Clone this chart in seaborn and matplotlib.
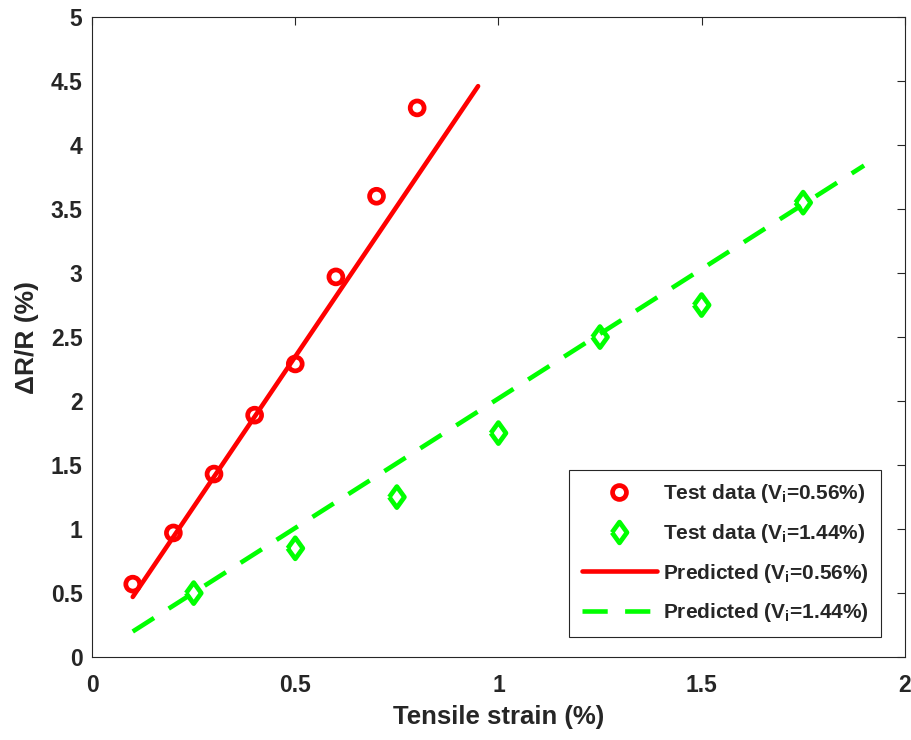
import matplotlib
matplotlib.use("Agg")
import matplotlib.pyplot as plt
from matplotlib.lines import Line2D
import seaborn as sns
import pandas as pd

# Measured resistance change vs tensile strain
strain_a = [0.1, 0.2, 0.3, 0.4, 0.5, 0.6, 0.7, 0.8]
dr_a = [0.57, 0.97, 1.43, 1.89, 2.29, 2.97, 3.60, 4.29]

strain_b = [0.25, 0.5, 0.75, 1.0, 1.25, 1.5, 1.75]
dr_b = [0.50, 0.85, 1.25, 1.75, 2.50, 2.75, 3.55]

# Model predictions (straight lines)
pred_strain_a = [0.1, 0.95]
pred_dr_a = [0.47, 4.46]
pred_strain_b = [0.1, 1.9]
pred_dr_b = [0.20, 3.84]

labels = [
    r"Test data (V$_\mathregular{i}$=0.56%)",
    r"Test data (V$_\mathregular{i}$=1.44%)",
    r"Predicted (V$_\mathregular{i}$=0.56%)",
    r"Predicted (V$_\mathregular{i}$=1.44%)",
]
xticks = [0, 0.5, 1, 1.5, 2]
yticks = [0, 0.5, 1, 1.5, 2, 2.5, 3, 3.5, 4, 4.5, 5]

sns.set_style("white")
plt.rcParams["font.family"] = ["Liberation Sans", "DejaVu Sans"]
plt.rcParams["font.weight"] = "bold"
plt.rcParams["mathtext.default"] = "regular"

RED = "#ff0000"
GREEN = "#00ff00"
INK = "#262626"

# wide diamond outline used for the second data set
DIAMOND = [(-0.72, 0), (0, 1), (0.72, 0), (0, -1), (-0.72, 0)]

fig = plt.figure(figsize=(9.12, 7.4), dpi=100)
ax = fig.add_axes([0.101, 0.112, 0.891, 0.865])

df_a = pd.DataFrame({"x": strain_a, "y": dr_a})
df_b = pd.DataFrame({"x": strain_b, "y": dr_b})
df_pa = pd.DataFrame({"x": pred_strain_a, "y": pred_dr_a})
df_pb = pd.DataFrame({"x": pred_strain_b, "y": pred_dr_b})

sns.lineplot(data=df_pa, x="x", y="y", ax=ax, color=RED, lw=3.3, zorder=2)
sns.lineplot(data=df_pb, x="x", y="y", ax=ax, color=GREEN, lw=3.3, zorder=2)
ax.lines[-1].set_dashes([5.5, 3.8])
sns.scatterplot(data=df_a, x="x", y="y", ax=ax, marker="o", s=100,
                facecolor="none", edgecolor=RED, linewidth=3.4, zorder=3)
sns.scatterplot(data=df_b, x="x", y="y", ax=ax, marker=DIAMOND, s=230,
                facecolor="none", edgecolor=GREEN, linewidth=3.4, zorder=3)

ax.set_xlim(0, 2)
ax.set_ylim(0, 5)
ax.set_xticks(xticks)
ax.set_yticks(yticks)
ax.set_xticklabels([f"{t:g}" for t in xticks])
ax.set_yticklabels([f"{t:g}" for t in yticks])
ax.tick_params(direction="in", length=6, width=0.8, top=True, right=True,
               labelsize=16.5, colors=INK, pad=7)
ax.tick_params(axis="x", pad=12)
for lab in ax.get_xticklabels() + ax.get_yticklabels():
    lab.set_fontweight("bold")
for sp in ax.spines.values():
    sp.set_linewidth(0.8)
    sp.set_color(INK)

ax.set_xlabel("Tensile strain (%)", fontsize=18.5, fontweight="bold",
              color=INK, labelpad=6)
ax.set_ylabel("ΔR/R (%)", fontsize=19, fontweight="bold", color=INK,
              labelpad=8)

handles = [
    Line2D([], [], ls="none", marker="o", ms=10, mfc="none", mec=RED, mew=3.4),
    Line2D([], [], ls="none", marker=DIAMOND, ms=15, mfc="none", mec=GREEN,
           mew=3.4),
    Line2D([], [], color=RED, lw=3.3),
    Line2D([], [], color=GREEN, lw=3.3, dashes=[5.5, 3.8]),
]
leg = ax.legend(handles, labels, loc="lower right",
                bbox_to_anchor=(0.979, 0.022),
                fontsize=15, frameon=True, fancybox=False, framealpha=1,
                edgecolor=INK, handlelength=3.6, handletextpad=0.3,
                borderpad=0.6, labelspacing=0.8, borderaxespad=0.3)
leg.get_frame().set_linewidth(0.8)
for t in leg.get_texts():
    t.set_fontweight("bold")

fig.savefig("out.png", dpi=100)
